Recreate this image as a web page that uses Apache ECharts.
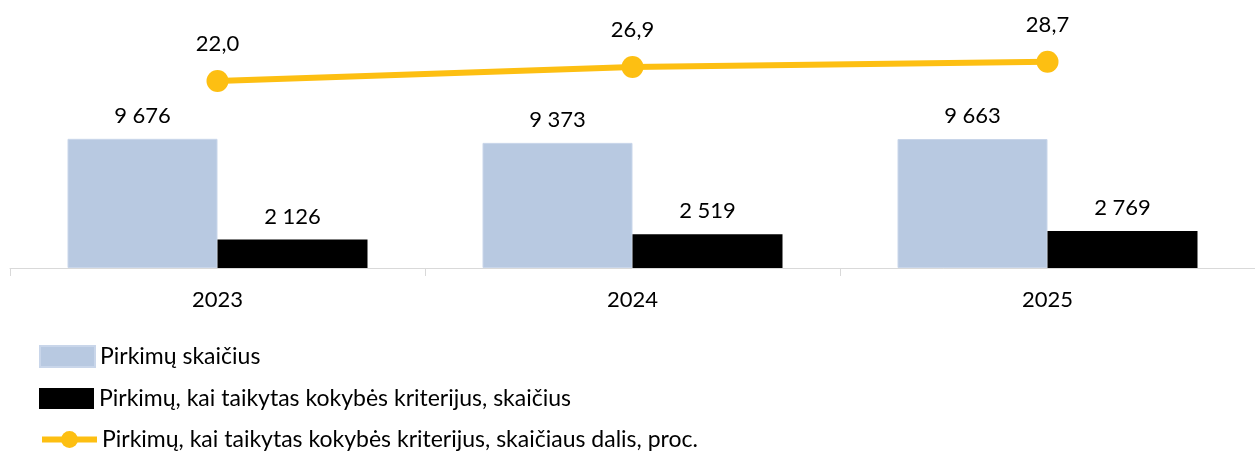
<!DOCTYPE html>
<html>
<head>
<meta charset="utf-8">
<script src="https://cdn.jsdelivr.net/npm/echarts@6/dist/echarts.min.js"></script>
<style>
  html, body { margin: 0; padding: 0; background: #fff; }
  #main { width: 1255px; height: 455px; }
</style>
</head>
<body>
<div id="main"></div>
<script>
var years = ['2023', '2024', '2025'];
var purchases = [9676, 9373, 9663];
var qualityPurchases = [2126, 2519, 2769];
var qualityShare = [22.0, 26.9, 28.7];

var nameA = 'Pirkimų skaičius';
var nameB = 'Pirkimų, kai taikytas kokybės kriterijus, skaičius';
var nameC = 'Pirkimų, kai taikytas kokybės kriterijus, skaičiaus dalis, proc.';

function spaced(v) {
    return String(v).replace(/\B(?=(\d{3})+(?!\d))/g, ' ');
}

var font = 'Lato';
var gold = '#fdbf12';

// one legend per row, so the three rows stay stacked on the left
function legendRow(item, top) {
    return {
        left: 39,
        top: top,
        padding: 0,
        itemWidth: 55,
        itemHeight: 21,
        textStyle: { fontSize: 23, color: '#000', fontFamily: font },
        data: [item]
    };
}

option = {
    animation: false,
    textStyle: { fontFamily: font },
    grid: { left: 10, right: -3, top: 1, bottom: 187, containLabel: false },
    xAxis: {
        type: 'category',
        data: years,
        axisLine: { lineStyle: { color: '#d9d9d9', width: 1 } },
        axisTick: { show: true, length: 8, lineStyle: { color: '#d9d9d9' } },
        axisLabel: { color: '#000', fontSize: 22, fontFamily: font, margin: 21 }
    },
    yAxis: [
        { type: 'value', min: 0, max: 20000, show: false, splitLine: { show: false } },
        { type: 'value', min: -43.5, max: 50, show: false, splitLine: { show: false } }
    ],
    legend: [
        legendRow({ name: nameA, icon: 'rect' }, 345),
        legendRow({ name: nameB, icon: 'rect' }, 387),
        legendRow({ name: nameC, lineStyle: { width: 6, color: gold }, itemStyle: { color: gold } }, 428)
    ],
    series: [
        {
            name: nameA,
            type: 'bar',
            data: purchases,
            barWidth: 150,
            barGap: '0%',
            itemStyle: { color: '#b8c9e1', borderColor: '#c9d6ea', borderWidth: 1 },
            label: {
                show: true, position: 'top', distance: 12,
                color: '#000', fontSize: 22, fontFamily: font,
                formatter: function (p) { return spaced(p.value); }
            }
        },
        {
            name: nameB,
            type: 'bar',
            data: qualityPurchases,
            barWidth: 150,
            itemStyle: { color: '#000' },
            label: {
                show: true, position: 'top', distance: 12,
                color: '#000', fontSize: 22, fontFamily: font,
                formatter: function (p) { return spaced(p.value); }
            }
        },
        {
            name: nameC,
            type: 'line',
            yAxisIndex: 1,
            data: qualityShare,
            symbol: 'circle',
            symbolSize: 22,
            lineStyle: { color: gold, width: 6 },
            itemStyle: { color: gold },
            label: {
                show: true, position: 'top', distance: 15,
                color: '#000', fontSize: 22, fontFamily: font,
                formatter: function (p) { return p.value.toFixed(1).replace('.', ','); }
            }
        }
    ]
};
var myChart = echarts.init(document.getElementById('main'));
myChart.setOption(option);
</script>
</body>
</html>
